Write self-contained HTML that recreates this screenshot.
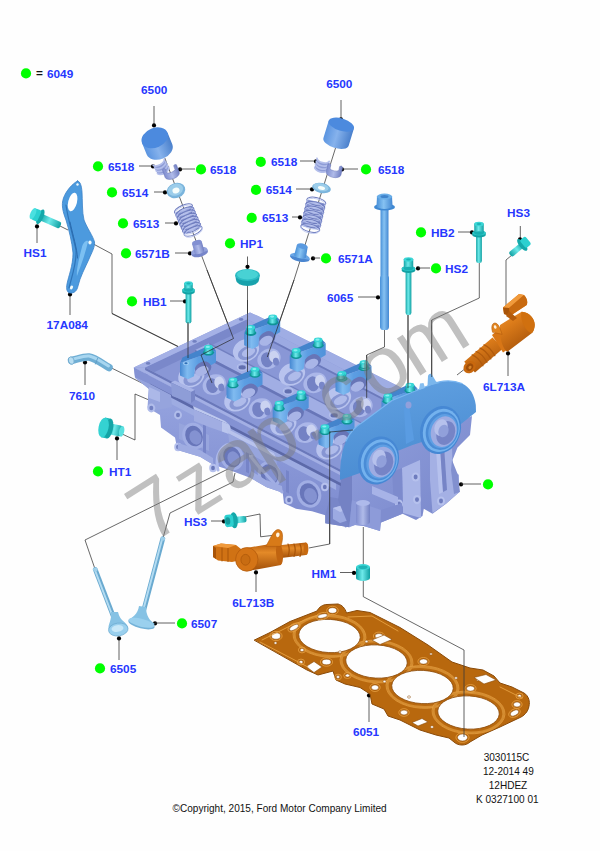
<!DOCTYPE html>
<html><head><meta charset="utf-8"><title>Cylinder head</title>
<style>
html,body{margin:0;padding:0;background:#fff;}
body{width:600px;height:851px;overflow:hidden;font-family:"Liberation Sans",sans-serif;}
svg{display:block;}
.lb{font-family:"Liberation Sans",sans-serif;font-weight:bold;font-size:11.8px;fill:#2637ff;}
.sm{font-family:"Liberation Sans",sans-serif;font-size:10.05px;fill:#111;}
.wm{font-family:"Liberation Sans",sans-serif;font-size:92px;fill:#8a8a8a;fill-opacity:0.55;}
</style></head><body>
<svg width="600" height="851" viewBox="0 0 600 851">
<rect width="600" height="851" fill="#fefefe"/>
<polyline points="164.8,158.0 207.0,270.0 233.5,338.5 201.0,355.0 212.0,383.0" fill="none" stroke="#262626" stroke-width="0.7"/>
<polyline points="336.0,146.5 294.0,280.0 267.3,357.0" fill="none" stroke="#262626" stroke-width="0.7"/>
<polyline points="247.5,284.0 247.5,372.0" fill="none" stroke="#262626" stroke-width="0.7"/>
<polyline points="188.0,322.0 188.0,358.0" fill="none" stroke="#262626" stroke-width="0.7"/>
<polyline points="91.5,243.0 112.0,254.0 112.0,313.5 178.0,346.5" fill="none" stroke="#262626" stroke-width="0.7"/>
<polyline points="60.0,226.0 68.0,230.0" fill="none" stroke="#262626" stroke-width="0.7"/>
<polyline points="109.5,367.0 150.0,387.0" fill="none" stroke="#262626" stroke-width="0.7"/>
<polyline points="120.0,433.0 135.0,440.0 135.0,394.0 149.0,400.0" fill="none" stroke="#262626" stroke-width="0.7"/>
<polyline points="95.0,569.0 85.0,540.0 230.0,468.0" fill="none" stroke="#262626" stroke-width="0.7"/>
<polyline points="163.0,538.0 170.0,513.0 233.0,482.0 235.0,473.0" fill="none" stroke="#262626" stroke-width="0.7"/>
<polyline points="245.0,517.0 260.0,514.0 260.6,536.8 276.0,535.0" fill="none" stroke="#262626" stroke-width="0.7"/>
<polyline points="308.8,548.0 329.7,544.0 329.7,432.0 353.0,430.0" fill="none" stroke="#262626" stroke-width="0.7"/>
<polyline points="363.3,527.0 363.3,566.0" fill="none" stroke="#262626" stroke-width="0.7"/>
<polyline points="363.3,580.0 363.3,596.7 464.0,650.0" fill="none" stroke="#262626" stroke-width="0.7"/>
<polyline points="384.5,330.0 384.5,347.0 366.7,355.0 366.7,398.0" fill="none" stroke="#262626" stroke-width="0.7"/>
<polyline points="408.0,315.0 408.0,388.0" fill="none" stroke="#262626" stroke-width="0.7"/>
<polyline points="479.3,263.0 479.3,298.0 431.7,320.0 431.7,377.0" fill="none" stroke="#262626" stroke-width="0.7"/>
<polyline points="512.0,255.0 506.0,260.0 506.0,310.0" fill="none" stroke="#262626" stroke-width="0.7"/>
<polyline points="466.0,368.0 457.0,375.0" fill="none" stroke="#262626" stroke-width="0.7"/>
<circle cx="26" cy="73.4" r="5.1" fill="#00ff00"/>
<text x="36" y="77.2" class="lb" style="fill:#111">=</text>
<text x="47" y="77.7" text-anchor="start" class="lb">6049</text>
<text x="154.2" y="94.0" text-anchor="middle" class="lb">6500</text>
<polyline points="154.0,106.0 154.0,125.0" fill="none" stroke="#3a3a3a" stroke-width="0.8"/>
<circle cx="154" cy="125.4" r="2.1" fill="#000"/>
<text x="339.3" y="88.0" text-anchor="middle" class="lb">6500</text>
<polyline points="341.0,100.0 341.0,119.0" fill="none" stroke="#3a3a3a" stroke-width="0.8"/>
<circle cx="341" cy="119.4" r="2.1" fill="#000"/>
<circle cx="98" cy="166.4" r="5.1" fill="#00ff00"/>
<text x="108" y="170.7" text-anchor="start" class="lb">6518</text>
<polyline points="139.0,166.0 153.0,166.0" fill="none" stroke="#3a3a3a" stroke-width="0.8"/>
<circle cx="153" cy="166.4" r="2.1" fill="#000"/>
<circle cx="180" cy="169.4" r="2.1" fill="#000"/>
<polyline points="180.0,169.0 195.0,169.0" fill="none" stroke="#3a3a3a" stroke-width="0.8"/>
<circle cx="201" cy="169.4" r="5.1" fill="#00ff00"/>
<text x="210" y="173.7" text-anchor="start" class="lb">6518</text>
<circle cx="112" cy="192.4" r="5.1" fill="#00ff00"/>
<text x="122" y="196.7" text-anchor="start" class="lb">6514</text>
<polyline points="154.0,192.0 165.0,192.0" fill="none" stroke="#3a3a3a" stroke-width="0.8"/>
<circle cx="165" cy="192.4" r="2.1" fill="#000"/>
<circle cx="123" cy="223.4" r="5.1" fill="#00ff00"/>
<text x="133" y="227.7" text-anchor="start" class="lb">6513</text>
<polyline points="165.0,223.0 176.0,223.0" fill="none" stroke="#3a3a3a" stroke-width="0.8"/>
<circle cx="176" cy="223.4" r="2.1" fill="#000"/>
<circle cx="126" cy="253.4" r="5.1" fill="#00ff00"/>
<text x="135" y="257.7" text-anchor="start" class="lb">6571B</text>
<polyline points="175.0,253.0 190.0,253.0" fill="none" stroke="#3a3a3a" stroke-width="0.8"/>
<circle cx="190" cy="253.4" r="2.1" fill="#000"/>
<circle cx="230" cy="243.4" r="5.1" fill="#00ff00"/>
<text x="240" y="247.7" text-anchor="start" class="lb">HP1</text>
<polyline points="247.5,256.5 247.5,266.5" fill="none" stroke="#3a3a3a" stroke-width="0.8"/>
<circle cx="247.5" cy="266.79999999999995" r="2.1" fill="#000"/>
<circle cx="132" cy="301.4" r="5.1" fill="#00ff00"/>
<text x="143" y="305.7" text-anchor="start" class="lb">HB1</text>
<polyline points="170.0,301.0 185.0,301.0" fill="none" stroke="#3a3a3a" stroke-width="0.8"/>
<circle cx="185" cy="301.4" r="2.1" fill="#000"/>
<text x="35" y="256.7" text-anchor="middle" class="lb">HS1</text>
<polyline points="37.0,226.0 37.0,243.0" fill="none" stroke="#3a3a3a" stroke-width="0.8"/>
<circle cx="37" cy="226.4" r="2.1" fill="#000"/>
<text x="67.2" y="329.1" text-anchor="middle" class="lb">17A084</text>
<polyline points="70.0,294.0 70.0,315.0" fill="none" stroke="#3a3a3a" stroke-width="0.8"/>
<circle cx="70" cy="294.4" r="2.1" fill="#000"/>
<text x="82" y="399.7" text-anchor="middle" class="lb">7610</text>
<polyline points="85.0,362.0 85.0,385.0" fill="none" stroke="#3a3a3a" stroke-width="0.8"/>
<circle cx="85" cy="362.4" r="2.1" fill="#000"/>
<circle cx="98" cy="471.4" r="5.1" fill="#00ff00"/>
<text x="109" y="475.7" text-anchor="start" class="lb">HT1</text>
<polyline points="117.0,438.0 117.0,460.0" fill="none" stroke="#3a3a3a" stroke-width="0.8"/>
<circle cx="117" cy="438.4" r="2.1" fill="#000"/>
<text x="184" y="525.7" text-anchor="start" class="lb">HS3</text>
<polyline points="211.0,521.0 224.0,521.0" fill="none" stroke="#3a3a3a" stroke-width="0.8"/>
<circle cx="224" cy="521.4" r="2.1" fill="#000"/>
<text x="253.3" y="606.9" text-anchor="middle" class="lb">6L713B</text>
<polyline points="256.0,572.0 256.0,592.0" fill="none" stroke="#3a3a3a" stroke-width="0.8"/>
<circle cx="256" cy="572.4" r="2.1" fill="#000"/>
<circle cx="155" cy="623.4" r="2.1" fill="#000"/>
<polyline points="155.0,623.0 175.0,623.0" fill="none" stroke="#3a3a3a" stroke-width="0.8"/>
<circle cx="182" cy="623.4" r="5.1" fill="#00ff00"/>
<text x="191" y="627.7" text-anchor="start" class="lb">6507</text>
<circle cx="100" cy="668.4" r="5.1" fill="#00ff00"/>
<text x="110" y="672.7" text-anchor="start" class="lb">6505</text>
<polyline points="119.0,638.0 119.0,660.0" fill="none" stroke="#3a3a3a" stroke-width="0.8"/>
<circle cx="119" cy="638.4" r="2.1" fill="#000"/>
<text x="311.5" y="577.7" text-anchor="start" class="lb">HM1</text>
<polyline points="340.0,572.5 354.0,572.5" fill="none" stroke="#3a3a3a" stroke-width="0.8"/>
<circle cx="354" cy="572.9" r="2.1" fill="#000"/>
<text x="366" y="735.7" text-anchor="middle" class="lb">6051</text>
<polyline points="369.0,695.0 369.0,722.0" fill="none" stroke="#3a3a3a" stroke-width="0.8"/>
<circle cx="369" cy="695.4" r="2.1" fill="#000"/>
<text x="504" y="390.7" text-anchor="middle" class="lb">6L713A</text>
<polyline points="508.0,353.0 508.0,376.0" fill="none" stroke="#3a3a3a" stroke-width="0.8"/>
<circle cx="508" cy="353.4" r="2.1" fill="#000"/>
<text x="518.5" y="216.7" text-anchor="middle" class="lb">HS3</text>
<polyline points="520.3,226.0 520.3,239.0" fill="none" stroke="#3a3a3a" stroke-width="0.8"/>
<circle cx="520" cy="239.4" r="2.1" fill="#000"/>
<circle cx="421" cy="232.4" r="5.1" fill="#00ff00"/>
<text x="431" y="236.7" text-anchor="start" class="lb">HB2</text>
<polyline points="458.0,232.0 472.0,232.0" fill="none" stroke="#3a3a3a" stroke-width="0.8"/>
<circle cx="472" cy="232.4" r="2.1" fill="#000"/>
<circle cx="418" cy="268.4" r="2.1" fill="#000"/>
<polyline points="418.0,268.0 430.0,268.0" fill="none" stroke="#3a3a3a" stroke-width="0.8"/>
<circle cx="436" cy="268.4" r="5.1" fill="#00ff00"/>
<text x="445" y="272.7" text-anchor="start" class="lb">HS2</text>
<text x="327" y="301.7" text-anchor="start" class="lb">6065</text>
<polyline points="358.0,297.0 378.0,297.0" fill="none" stroke="#3a3a3a" stroke-width="0.8"/>
<circle cx="378" cy="297.4" r="2.1" fill="#000"/>
<circle cx="313" cy="258.4" r="2.1" fill="#000"/>
<polyline points="313.0,258.0 320.0,258.0" fill="none" stroke="#3a3a3a" stroke-width="0.8"/>
<circle cx="326" cy="258.4" r="5.1" fill="#00ff00"/>
<text x="338" y="262.7" text-anchor="start" class="lb">6571A</text>
<circle cx="251.7" cy="217.9" r="5.1" fill="#00ff00"/>
<text x="262" y="221.7" text-anchor="start" class="lb">6513</text>
<polyline points="292.0,217.0 300.0,217.0" fill="none" stroke="#3a3a3a" stroke-width="0.8"/>
<circle cx="300" cy="217.4" r="2.1" fill="#000"/>
<circle cx="256" cy="189.9" r="5.1" fill="#00ff00"/>
<text x="265.7" y="193.7" text-anchor="start" class="lb">6514</text>
<polyline points="296.0,189.0 312.0,189.0" fill="none" stroke="#3a3a3a" stroke-width="0.8"/>
<circle cx="312" cy="189.4" r="2.1" fill="#000"/>
<circle cx="260.8" cy="161.9" r="5.1" fill="#00ff00"/>
<text x="271" y="165.7" text-anchor="start" class="lb">6518</text>
<polyline points="300.0,161.0 316.0,161.0" fill="none" stroke="#3a3a3a" stroke-width="0.8"/>
<circle cx="316" cy="161.4" r="2.1" fill="#000"/>
<circle cx="342" cy="169.4" r="2.1" fill="#000"/>
<polyline points="342.0,169.0 358.0,169.0" fill="none" stroke="#3a3a3a" stroke-width="0.8"/>
<circle cx="366" cy="169.4" r="5.1" fill="#00ff00"/>
<text x="378" y="173.7" text-anchor="start" class="lb">6518</text>
<circle cx="461" cy="484.4" r="2.1" fill="#000"/>
<polyline points="461.0,484.0 481.0,484.0" fill="none" stroke="#3a3a3a" stroke-width="0.8"/>
<circle cx="488" cy="484.4" r="5.1" fill="#00ff00"/>
<text x="506.5" y="760.6" text-anchor="middle" class="sm">3030115C</text>
<text x="508.3" y="774.6" text-anchor="middle" class="sm">12-2014 49</text>
<text x="508" y="788.6" text-anchor="middle" class="sm">12HDEZ</text>
<text x="507.3" y="802.6" text-anchor="middle" class="sm">K 0327100 01</text>
<text x="279.6" y="811.6" text-anchor="middle" class="sm" style="font-size:10.05px">©Copyright, 2015, Ford Motor Company Limited</text>
<defs><linearGradient id="gcyl" x1="0" y1="0" x2="1" y2="0"><stop offset="0" stop-color="#5a94e0"/><stop offset="0.45" stop-color="#86b2ec"/><stop offset="1" stop-color="#4a80cc"/></linearGradient></defs>
<defs><linearGradient id="gper" x1="0" y1="0" x2="1" y2="0"><stop offset="0" stop-color="#7e8cce"/><stop offset="0.5" stop-color="#b0bbe9"/><stop offset="1" stop-color="#7280c2"/></linearGradient></defs>
<defs><linearGradient id="gbolt" x1="0" y1="0" x2="1" y2="0"><stop offset="0" stop-color="#12a4a6"/><stop offset="0.45" stop-color="#6eeaea"/><stop offset="1" stop-color="#10a0a2"/></linearGradient></defs>
<defs><linearGradient id="gblue" x1="0" y1="0" x2="1" y2="0"><stop offset="0" stop-color="#4890d8"/><stop offset="0.45" stop-color="#86c2f2"/><stop offset="1" stop-color="#4488d2"/></linearGradient></defs>
<defs><linearGradient id="gval" x1="0" y1="0" x2="1" y2="0"><stop offset="0" stop-color="#5f9fc6"/><stop offset="0.5" stop-color="#c0e4f6"/><stop offset="1" stop-color="#6aaad0"/></linearGradient></defs>
<defs><linearGradient id="gor" x1="0" y1="0" x2="0" y2="1"><stop offset="0" stop-color="#b45a0c"/><stop offset="0.35" stop-color="#e48a28"/><stop offset="1" stop-color="#a04e08"/></linearGradient></defs>
<g transform="translate(154.8,137.8) rotate(-22)">
<path d="M-13.8,0 L-13.8,12.5 A13.8,9.8 0 0 0 13.8,12.5 L13.8,0 Z" fill="url(#gcyl)"/>
<ellipse cx="0" cy="0" rx="13.8" ry="9.8" fill="#4c8ade"/>
</g>
<g transform="translate(341.3,124.6) rotate(17)">
<path d="M-13.2,0 L-13.2,18 A13.2,6.2 0 0 0 13.2,18 L13.2,0 Z" fill="url(#gcyl)"/>
<ellipse cx="0" cy="0" rx="13.2" ry="6.2" fill="#4c8ade"/>
</g>
<g transform="translate(161,166.5) rotate(-28)">
<path d="M-6.5,-5.5 L-6.5,4 A6.5,3.6 0 0 0 6.5,4 L6.5,-5.5 A6.5,3.6 0 0 1 -6.5,-5.5 Z" fill="#8e9cd6"/>
<path d="M-6.5,-5.5 A6.5,3.6 0 0 0 6.5,-5.5" fill="none" stroke="#b4bfeb" stroke-width="1.7"/>
<path d="M-6.5,-2.3 A6.5,3.6 0 0 0 6.5,-2.3" fill="none" stroke="#b4bfeb" stroke-width="1.7"/>
<path d="M-6.5,0.9 A6.5,3.6 0 0 0 6.5,0.9" fill="none" stroke="#b4bfeb" stroke-width="1.7"/>
<path d="M-6.5,4.0 A6.5,3.6 0 0 0 6.5,4.0" fill="none" stroke="#b4bfeb" stroke-width="1.7"/>
</g>
<g transform="translate(171.5,173) rotate(-20)">
<path d="M-7.5,-6 L-7.5,2 A7.5,4 0 0 0 7.5,2 L7.5,-6 A2,2 0 0 0 4.5,-6 L4.5,-2 A5,2.5 0 0 1 -4.5,-2 L-4.5,-6 A2,2 0 0 0 -7.5,-6 Z" fill="url(#gper)" stroke="#6a78ba" stroke-width="0.5"/>
</g>
<g transform="translate(322,164.5) rotate(14)">
<path d="M-6.5,-5.5 L-6.5,4 A6.5,3.6 0 0 0 6.5,4 L6.5,-5.5 A6.5,3.6 0 0 1 -6.5,-5.5 Z" fill="#8e9cd6"/>
<path d="M-6.5,-5.5 A6.5,3.6 0 0 0 6.5,-5.5" fill="none" stroke="#b4bfeb" stroke-width="1.7"/>
<path d="M-6.5,-2.3 A6.5,3.6 0 0 0 6.5,-2.3" fill="none" stroke="#b4bfeb" stroke-width="1.7"/>
<path d="M-6.5,0.9 A6.5,3.6 0 0 0 6.5,0.9" fill="none" stroke="#b4bfeb" stroke-width="1.7"/>
<path d="M-6.5,4.0 A6.5,3.6 0 0 0 6.5,4.0" fill="none" stroke="#b4bfeb" stroke-width="1.7"/>
</g>
<g transform="translate(334,171.5) rotate(12)">
<path d="M-7.5,-6 L-7.5,2 A7.5,4 0 0 0 7.5,2 L7.5,-6 A2,2 0 0 0 4.5,-6 L4.5,-2 A5,2.5 0 0 1 -4.5,-2 L-4.5,-6 A2,2 0 0 0 -7.5,-6 Z" fill="url(#gper)" stroke="#6a78ba" stroke-width="0.5"/>
</g>
<ellipse cx="176.0" cy="190.5" rx="9.5" ry="7.5" fill="#7ab4dc" transform="rotate(-20 176.0 190.5)"/>
<ellipse cx="175.5" cy="189.7" rx="7.8" ry="5.9" fill="#9ccdea" transform="rotate(-20 175.5 189.7)"/>
<ellipse cx="176.0" cy="190.5" rx="3.6" ry="2.9" fill="#f6fdfb" transform="rotate(-20 176.0 190.5)"/>
<ellipse cx="321.5" cy="188.0" rx="9.5" ry="5.0" fill="#7ab4dc" transform="rotate(12 321.5 188.0)"/>
<ellipse cx="321.0" cy="187.2" rx="7.8" ry="3.9" fill="#9ccdea" transform="rotate(12 321.0 187.2)"/>
<ellipse cx="321.5" cy="188.0" rx="3.6" ry="1.9" fill="#f6fdfb" transform="rotate(12 321.5 188.0)"/>
<g transform="translate(183.5,209) rotate(-23.4)">
<rect x="-9.75" y="0" width="19.5" height="24.0" rx="3" fill="url(#gper)"/>
<ellipse cx="0" cy="0.0" rx="9.75" ry="3.9" fill="none" stroke="#6e7cbe" stroke-width="1"/>
<ellipse cx="0" cy="1.2" rx="9.25" ry="3.9" fill="none" stroke="#bac5ee" stroke-width="0.8"/>
<ellipse cx="0" cy="3.4" rx="9.75" ry="3.9" fill="none" stroke="#6e7cbe" stroke-width="1"/>
<ellipse cx="0" cy="4.6" rx="9.25" ry="3.9" fill="none" stroke="#bac5ee" stroke-width="0.8"/>
<ellipse cx="0" cy="6.8" rx="9.75" ry="3.9" fill="none" stroke="#6e7cbe" stroke-width="1"/>
<ellipse cx="0" cy="8.0" rx="9.25" ry="3.9" fill="none" stroke="#bac5ee" stroke-width="0.8"/>
<ellipse cx="0" cy="10.3" rx="9.75" ry="3.9" fill="none" stroke="#6e7cbe" stroke-width="1"/>
<ellipse cx="0" cy="11.5" rx="9.25" ry="3.9" fill="none" stroke="#bac5ee" stroke-width="0.8"/>
<ellipse cx="0" cy="13.7" rx="9.75" ry="3.9" fill="none" stroke="#6e7cbe" stroke-width="1"/>
<ellipse cx="0" cy="14.9" rx="9.25" ry="3.9" fill="none" stroke="#bac5ee" stroke-width="0.8"/>
<ellipse cx="0" cy="17.1" rx="9.75" ry="3.9" fill="none" stroke="#6e7cbe" stroke-width="1"/>
<ellipse cx="0" cy="18.3" rx="9.25" ry="3.9" fill="none" stroke="#bac5ee" stroke-width="0.8"/>
<ellipse cx="0" cy="20.5" rx="9.75" ry="3.9" fill="none" stroke="#6e7cbe" stroke-width="1"/>
<ellipse cx="0" cy="21.7" rx="9.25" ry="3.9" fill="none" stroke="#bac5ee" stroke-width="0.8"/>
<ellipse cx="0" cy="24.0" rx="9.75" ry="3.9" fill="none" stroke="#6e7cbe" stroke-width="1"/>
<ellipse cx="0" cy="25.2" rx="9.25" ry="3.9" fill="none" stroke="#bac5ee" stroke-width="0.8"/>
</g>
<g transform="translate(316.3,201.5) rotate(12.8)">
<rect x="-9.75" y="0" width="19.5" height="27.2" rx="3" fill="url(#gper)"/>
<ellipse cx="0" cy="0.0" rx="9.75" ry="3.9" fill="none" stroke="#6e7cbe" stroke-width="1"/>
<ellipse cx="0" cy="1.2" rx="9.25" ry="3.9" fill="none" stroke="#bac5ee" stroke-width="0.8"/>
<ellipse cx="0" cy="4.5" rx="9.75" ry="3.9" fill="none" stroke="#6e7cbe" stroke-width="1"/>
<ellipse cx="0" cy="5.7" rx="9.25" ry="3.9" fill="none" stroke="#bac5ee" stroke-width="0.8"/>
<ellipse cx="0" cy="9.1" rx="9.75" ry="3.9" fill="none" stroke="#6e7cbe" stroke-width="1"/>
<ellipse cx="0" cy="10.3" rx="9.25" ry="3.9" fill="none" stroke="#bac5ee" stroke-width="0.8"/>
<ellipse cx="0" cy="13.6" rx="9.75" ry="3.9" fill="none" stroke="#6e7cbe" stroke-width="1"/>
<ellipse cx="0" cy="14.8" rx="9.25" ry="3.9" fill="none" stroke="#bac5ee" stroke-width="0.8"/>
<ellipse cx="0" cy="18.1" rx="9.75" ry="3.9" fill="none" stroke="#6e7cbe" stroke-width="1"/>
<ellipse cx="0" cy="19.3" rx="9.25" ry="3.9" fill="none" stroke="#bac5ee" stroke-width="0.8"/>
<ellipse cx="0" cy="22.6" rx="9.75" ry="3.9" fill="none" stroke="#6e7cbe" stroke-width="1"/>
<ellipse cx="0" cy="23.8" rx="9.25" ry="3.9" fill="none" stroke="#bac5ee" stroke-width="0.8"/>
<ellipse cx="0" cy="27.2" rx="9.75" ry="3.9" fill="none" stroke="#6e7cbe" stroke-width="1"/>
<ellipse cx="0" cy="28.4" rx="9.25" ry="3.9" fill="none" stroke="#bac5ee" stroke-width="0.8"/>
</g>
<g transform="translate(198.5,248.5) rotate(-15) scale(1)">
<ellipse cx="0" cy="4.5" rx="8.5" ry="4" fill="#7786ca"/>
<path d="M-8.5,3 A8.5,4 0 0 1 8.5,3 L8.5,4.5 L-8.5,4.5 Z" fill="#93a2dc"/>
<path d="M-5,-6 L-5,3 A5,2.5 0 0 0 5,3 L5,-6 Z" fill="url(#gper)"/>
<ellipse cx="0" cy="-6" rx="5" ry="2.5" fill="#8290d2"/>
</g>
<g transform="translate(301,252) rotate(12)">
<ellipse cx="0" cy="6" rx="10" ry="3.6" fill="#4a86d0"/>
<path d="M-10,5 A10,3.6 0 0 1 10,5 L10,6 L-10,6 Z" fill="#6aa6e6"/>
<path d="M-5.5,-6 L-6,4 A6,2.5 0 0 0 6,4 L5.5,-6 Z" fill="url(#gblue)"/>
<ellipse cx="0" cy="-6" rx="5.5" ry="2.6" fill="#5a9ae0"/>
</g>
<path d="M235.2,275 L236,280 A11.5,6 0 0 0 259,280 L259.8,275 Z" fill="#18a2ac"/>
<ellipse cx="247.5" cy="275.0" rx="12.3" ry="6.0" fill="#2cbcc4"/>
<ellipse cx="247.5" cy="274.6" rx="10.6" ry="4.8" fill="#48d2d4"/>
<rect x="185.6" y="292.0" width="5.8" height="31.5" rx="2.3" fill="url(#gbolt)"/>
<path d="M182.25,290.0 L182.25,292.0 A6.25,2.4 0 0 0 194.75,292.0 L194.75,290.0 A6.25,2.4 0 0 0 182.25,290.0 Z" fill="#12a2a4"/>
<ellipse cx="188.5" cy="290.0" rx="6.25" ry="2.4" fill="#2cc8c8"/>
<rect x="184.25" y="283.0" width="8.5" height="7.0" fill="url(#gbolt)"/>
<ellipse cx="188.5" cy="290.0" rx="4.25" ry="1.8" fill="#18aeb0"/>
<ellipse cx="188.5" cy="283.5" rx="4.25" ry="2.2" fill="#3ad6d6"/>
<ellipse cx="188.5" cy="283.5" rx="2.125" ry="1" fill="#1cb4b6"/>
<rect x="405.6" y="270.5" width="5.8" height="44.5" rx="2.3" fill="url(#gbolt)"/>
<path d="M401.75,268.5 L401.75,270.5 A6.75,2.4 0 0 0 415.25,270.5 L415.25,268.5 A6.75,2.4 0 0 0 401.75,268.5 Z" fill="#12a2a4"/>
<ellipse cx="408.5" cy="268.5" rx="6.75" ry="2.4" fill="#2cc8c8"/>
<rect x="403.75" y="259.0" width="9.5" height="9.5" fill="url(#gbolt)"/>
<ellipse cx="408.5" cy="268.5" rx="4.75" ry="1.8" fill="#18aeb0"/>
<ellipse cx="408.5" cy="259.5" rx="4.75" ry="2.2" fill="#3ad6d6"/>
<ellipse cx="408.5" cy="259.5" rx="2.375" ry="1" fill="#1cb4b6"/>
<rect x="476.1" y="235" width="5.8" height="28" rx="2.3" fill="url(#gbolt)"/>
<path d="M472.25,233 L472.25,235 A6.75,2.4 0 0 0 485.75,235 L485.75,233 A6.75,2.4 0 0 0 472.25,233 Z" fill="#12a2a4"/>
<ellipse cx="479" cy="233" rx="6.75" ry="2.4" fill="#2cc8c8"/>
<rect x="474.25" y="223.5" width="9.5" height="9.5" fill="url(#gbolt)"/>
<ellipse cx="479" cy="233" rx="4.75" ry="1.8" fill="#18aeb0"/>
<ellipse cx="479" cy="224" rx="4.75" ry="2.2" fill="#3ad6d6"/>
<ellipse cx="479" cy="224" rx="2.375" ry="1" fill="#1cb4b6"/>
<rect x="380.5" y="207" width="8" height="123" rx="3.5" fill="url(#gblue)"/>
<rect x="380" y="275" width="9" height="55" rx="3.5" fill="url(#gblue)"/>
<ellipse cx="384.5" cy="207.0" rx="10.5" ry="3.6" fill="#3f88d2"/>
<path d="M377,196 L376.5,206 A8,3 0 0 0 392.5,206 L392,196 Z" fill="url(#gblue)"/>
<ellipse cx="384.5" cy="196.5" rx="7.6" ry="3.0" fill="#6aaee8"/>
<ellipse cx="384.5" cy="196.5" rx="4.0" ry="1.5" fill="#3f84cc"/>
<g transform="translate(38.5,216) rotate(24) scale(1.0)">
<rect x="2" y="-3.4" width="22" height="6.8" rx="2" fill="url(#gbolt)" transform="rotate(0)"/>
<ellipse cx="2" cy="0" rx="3" ry="8" fill="#14a8aa"/>
<rect x="-6" y="-6" width="7" height="12" rx="2" fill="#2cd0d0"/>
<ellipse cx="-6" cy="0" rx="2.6" ry="6" fill="#4ae0e0"/>
</g>
<g transform="translate(524,243.5) rotate(140) scale(1.12)">
<rect x="2" y="-2.6" width="14" height="5.2" rx="2" fill="url(#gbolt)"/>
<ellipse cx="2" cy="0" rx="2.6" ry="6.5" fill="#14a8aa"/>
<rect x="-5" y="-4.6" width="6.5" height="9.2" rx="2" fill="#2cd0d0"/>
</g>
<g transform="translate(231.5,520.5) rotate(-6) scale(1.25)">
<rect x="2" y="-2.6" width="10" height="5.2" rx="2" fill="url(#gbolt)"/>
<ellipse cx="2" cy="0" rx="3" ry="6.5" fill="#14a8aa"/>
<rect x="-5.5" y="-5" width="7" height="10" rx="2.5" fill="#2cd0d0"/>
<ellipse cx="-3" cy="0" rx="2" ry="3" fill="#129a9c"/>
</g>
<path d="M77.5,181 C72,184 66,191 63.5,198 C61,205 63,212 66,220 C69,230 72,242 73,253 C73,266 68.500,276 67,284 C66,289 67,292.500 70,293 C74,293.500 77,291 78,286 C80,277 85,268 89,259 C92,252 95,247 94.500,242 C93,236 87,228 84,220 C82,212 82.500,200 82,192 C81.500,186 80.500,181.500 77.500,181 Z" fill="#4c9ade" stroke="#3a82c8" stroke-width="0.8" stroke-linejoin="round" stroke-linecap="round" />
<path d="M66,205 C68,220 73,235 76,250 C77,262 72,276 69,288" fill="none" stroke="#2f74b8" stroke-width="1.2" stroke-linejoin="round" stroke-linecap="round" />
<path d="M70,222 C73,236 77,248 77.5,258" fill="none" stroke="#2a6cb0" stroke-width="1" stroke-linejoin="round" stroke-linecap="round" />
<path d="M82,247 C83,243 86,240 88,241 C86,252 80,268 77,276 C76,272 79,258 82,247 Z" fill="#7cc0f2" />
<ellipse cx="72.6" cy="202.0" rx="4.4" ry="9.5" fill="#fefefe" transform="rotate(14 72.6 202.0)"/>
<ellipse cx="90.0" cy="242.5" rx="1.6" ry="2.0" fill="#f1f9fa"/>
<ellipse cx="71.5" cy="287.5" rx="1.4" ry="2.0" fill="#f1f9fa" transform="rotate(30 71.5 287.5)"/>
<ellipse cx="77.5" cy="184.5" rx="1.2" ry="1.2" fill="#f1f9fa"/>
<path d="M71.5,360.5 C78,359 84,356.500 89,357 C95,358 100,362 109,367.500" fill="none" stroke="#6faed4" stroke-width="7.5" stroke-linejoin="round" stroke-linecap="round" />
<path d="M72,359.500 C78,358 84,355.500 89,356 C95,357 100,361 108.500,366" fill="none" stroke="#a8d6f0" stroke-width="3" stroke-linejoin="round" stroke-linecap="round" />
<ellipse cx="71.3" cy="360.6" rx="2.8" ry="3.8" fill="#b8def2" stroke="#6aa6cc" stroke-width="0.8" transform="rotate(-15 71.3 360.6)"/>
<path d="M97.500,358.500 L95.500,364" fill="none" stroke="#5c9cc4" stroke-width="0.9" stroke-linejoin="round" stroke-linecap="round" />
<g transform="translate(106,428) rotate(12)">
<rect x="2" y="-5.5" width="14" height="11" rx="2" fill="url(#gbolt)" />
<ellipse cx="16" cy="0" rx="2.6" ry="5.4" fill="#5ae0e0"/>
<path d="M-3,-10 L3,-10 L3,10 L-3,10 Z" fill="#1fbcbc"/>
<ellipse cx="3" cy="0" rx="4" ry="10" fill="#14a4a6"/>
<ellipse cx="-2.5" cy="0" rx="5" ry="10" fill="#34d2d2"/>
</g>
<path d="M356,567 L356,578 A7,3 0 0 0 370,578 L370,567 Z" fill="url(#gbolt)"/>
<ellipse cx="363.0" cy="567.0" rx="7.0" ry="3.0" fill="#3cd6d6"/>
<ellipse cx="363.0" cy="567.3" rx="4.6" ry="1.8" fill="#1fb4b6"/>
<path d="M95.3,569.5 L115.5,622" fill="none" stroke="#6aaad0" stroke-width="4.8" stroke-linejoin="round" stroke-linecap="round" />
<path d="M94.7,569.5 L114.9,622" fill="none" stroke="#b4dcf2" stroke-width="1.92" stroke-linejoin="round" stroke-linecap="round" />
<ellipse cx="95.3" cy="569.5" rx="2.4" ry="2.0" fill="#a0d0ea"/>
<path d="M111,612 C112,620 108,624 108.500,629 C110,636 126,636 128,628 C128,622 120,622 118,612 Z" fill="#86c2e4" />
<ellipse cx="118.3" cy="629.5" rx="9.8" ry="6.4" fill="#9ad0ee" stroke="#6aaad0" stroke-width="0.7" transform="rotate(-8 118.3 629.5)"/>
<ellipse cx="117.5" cy="628.5" rx="6.0" ry="3.4" fill="#c8e8f8" transform="rotate(-8 117.5 628.5)"/>
<path d="M162.8,538.7 L142.5,615" fill="none" stroke="#6aaad0" stroke-width="4.8" stroke-linejoin="round" stroke-linecap="round" />
<path d="M162.20000000000002,538.7 L141.9,615" fill="none" stroke="#b4dcf2" stroke-width="1.92" stroke-linejoin="round" stroke-linecap="round" />
<ellipse cx="162.8" cy="538.7" rx="2.4" ry="2.0" fill="#a0d0ea"/>
<path d="M139,606 C138,614 132,618 128,620 C136,626 150,628 155,624 C150,621 146,616 146,607 Z" fill="#86c2e4" />
<ellipse cx="141.5" cy="624.0" rx="13.5" ry="4.4" fill="#74b2d8" transform="rotate(14 141.5 624.0)"/>
<ellipse cx="141.5" cy="622.8" rx="13.0" ry="4.0" fill="#9ad0ee" transform="rotate(14 141.5 622.8)"/>
<defs><linearGradient id="gorA" x1="0" y1="0" x2="0.6" y2="1"><stop offset="0" stop-color="#ec9434"/><stop offset="0.35" stop-color="#dc7c1a"/><stop offset="1" stop-color="#a8540a"/></linearGradient></defs>
<path d="M464.2,361.7 L492.5,337.5 L503.3,348.3 L475,372.5 Z" fill="url(#gorA)" />
<ellipse cx="469.6" cy="367.1" rx="5.6" ry="6.6" fill="#c8680e" transform="rotate(40 469.6 367.1)"/>
<ellipse cx="469.6" cy="367.1" rx="3.2" ry="4.0" fill="#a04e08" transform="rotate(40 469.6 367.1)"/>
<ellipse cx="470.0" cy="367.4" rx="1.4" ry="1.8" fill="#d8852a" transform="rotate(40 470.0 367.4)"/>
<path d="M472.1,354.9 q6,2 10.8,10.8" fill="none" stroke="#b05a0c" stroke-width="1.3" stroke-linejoin="round" stroke-linecap="round" />
<path d="M476.1,351.5 q6,2 10.8,10.8" fill="none" stroke="#b05a0c" stroke-width="1.3" stroke-linejoin="round" stroke-linecap="round" />
<path d="M480.0,348.1 q6,2 10.8,10.8" fill="none" stroke="#b05a0c" stroke-width="1.3" stroke-linejoin="round" stroke-linecap="round" />
<path d="M484.0,344.8 q6,2 10.8,10.8" fill="none" stroke="#b05a0c" stroke-width="1.3" stroke-linejoin="round" stroke-linecap="round" />
<path d="M492,335 L499,329 L511,347 L503,352.5 Z" fill="#d87616" />
<path d="M500,325 L521.7,311.7 C530,312 536,320 534.5,327 C534,330 533,332 532,333 L507.5,351.7 C503,350 499,338 500,325 Z" fill="url(#gorA)" />
<path d="M521.7,311.7 C530,312 536,320 534.5,327 C534,330 533,332 532,333 C527,333 519,320 521.7,311.7 Z" fill="#d0700f" />
<path d="M492.500,332 C491,327 492,323 495,323 C498.500,323.500 500,328 502,334 Z" fill="#e08420" stroke="#b45c0c" stroke-width="0.6" stroke-linejoin="round" stroke-linecap="round" />
<ellipse cx="495.2" cy="327.0" rx="1.3" ry="1.9" fill="#fff3e0" transform="rotate(-20 495.2 327.0)"/>
<path d="M503,307.500 L519,294 L524,295 C527,298 528,302 526.700,305 L510,316 L504,314 Z" fill="#e07c1a" />
<path d="M503,307.500 L519,294 L524,295 L509,308 Z" fill="#f09a3c" />
<path d="M509,308 L524,295 C527,298 528,302 526.700,305 L510,316 Z" fill="#c86a10" />
<path d="M503,307.500 L509,308 L510,316 L504,314 Z" fill="#a85408" />
<path d="M509,311 L517,318 L513,321 L506,316 Z" fill="#b45c0c" />
<path d="M213,546 L221,543.500 L236,545 L241,549 L241,560 L232,562 L218,560.500 L213,557 Z" fill="#d07214" />
<path d="M213,546 L221,543.500 L236,545 L228,548 Z" fill="#f09a3c" />
<path d="M213,546 L216,548 L216,559 L213,557 Z" fill="#a85408" />
<path d="M222,548 L222,561 M228,548.500 L228,561.500" fill="none" stroke="#a85408" stroke-width="1" stroke-linejoin="round" stroke-linecap="round" />
<path d="M277,545.5 L306,542.5 L306,555 L277,558.5 Z" fill="url(#gor)" />
<ellipse cx="306.0" cy="548.8" rx="2.4" ry="6.3" fill="#c86a10"/>
<path d="M288,544 q2.500,6 0,12.500" fill="none" stroke="#a85408" stroke-width="1.2" stroke-linejoin="round" stroke-linecap="round" />
<path d="M294,544 q2.500,6 0,12.500" fill="none" stroke="#a85408" stroke-width="1.2" stroke-linejoin="round" stroke-linecap="round" />
<path d="M300,544 q2.500,6 0,12.500" fill="none" stroke="#a85408" stroke-width="1.2" stroke-linejoin="round" stroke-linecap="round" />
<path d="M246,548 L279,542.5 L281,565 L248,571 Z" fill="url(#gor)" />
<ellipse cx="279.5" cy="553.8" rx="3.4" ry="11.3" fill="#c06410" transform="rotate(-5 279.5 553.8)"/>
<ellipse cx="246.8" cy="559.4" rx="11.2" ry="11.8" fill="#d47416"/>
<ellipse cx="246.8" cy="559.4" rx="11.2" ry="11.8" fill="none" stroke="#b45c0c" stroke-width="0.8"/>
<ellipse cx="245.5" cy="559.8" rx="4.6" ry="5.4" fill="#c86c12"/>
<ellipse cx="245.5" cy="559.8" rx="4.6" ry="5.4" fill="none" stroke="#a85408" stroke-width="0.7"/>
<path d="M266,546 C270,540 273,530 278,529.5 C283.5,529.5 283.5,538 281,546 Z" fill="#d87a18" stroke="#b45c0c" stroke-width="0.6" stroke-linejoin="round" stroke-linecap="round" />
<ellipse cx="277.8" cy="534.8" rx="1.8" ry="2.4" fill="#fff3e0" transform="rotate(10 277.8 534.8)"/>
<path d="M254.5,640 L270,632.5 L290,621.5 L317,611 C319,607 323,604.500 327,604.500 L338,604 C342,605 345,608 346.500,613 L357,610.500 L370,612.500 L400,627.500 L428,645 L452,662 L470,668 L483,670 L494,676 L500,683 L512,687 L524,693 C529,696 530,702 529,706 C528,712 524,716 519,718 L500,727 L482,735 L470,742 C466,746 458,746 454,742 L449,738 L436,735 L420,730 L400,720 L388,716 L384,709 L372,704 L370,694 L360,687.500 L345,684 L336,680 L333,671 L318,675 L307,670 Z" fill="#b8680e" stroke="#8a4a08" stroke-width="1" stroke-linejoin="round" stroke-linecap="round" />
<ellipse cx="329.5" cy="636.0" rx="35.0" ry="20.0" fill="none" stroke="#d48c30" stroke-width="2.2" transform="rotate(3 329.5 636.0)"/>
<ellipse cx="329.5" cy="636.0" rx="36.5" ry="21.3" fill="none" stroke="#e6a042" stroke-width="0.7" transform="rotate(3 329.5 636.0)"/>
<ellipse cx="376.5" cy="661.5" rx="35.0" ry="20.0" fill="none" stroke="#d48c30" stroke-width="2.2" transform="rotate(3 376.5 661.5)"/>
<ellipse cx="376.5" cy="661.5" rx="36.5" ry="21.3" fill="none" stroke="#e6a042" stroke-width="0.7" transform="rotate(3 376.5 661.5)"/>
<ellipse cx="422.5" cy="687.0" rx="35.0" ry="20.0" fill="none" stroke="#d48c30" stroke-width="2.2" transform="rotate(3 422.5 687.0)"/>
<ellipse cx="422.5" cy="687.0" rx="36.5" ry="21.3" fill="none" stroke="#e6a042" stroke-width="0.7" transform="rotate(3 422.5 687.0)"/>
<ellipse cx="468.5" cy="712.5" rx="35.0" ry="20.0" fill="none" stroke="#d48c30" stroke-width="2.2" transform="rotate(3 468.5 712.5)"/>
<ellipse cx="468.5" cy="712.5" rx="36.5" ry="21.3" fill="none" stroke="#e6a042" stroke-width="0.7" transform="rotate(3 468.5 712.5)"/>
<ellipse cx="329.5" cy="636.0" rx="30.8" ry="16.6" fill="#fefefe" stroke="#8a4a08" stroke-width="0.8" transform="rotate(3 329.5 636.0)"/>
<ellipse cx="376.5" cy="661.5" rx="30.8" ry="16.6" fill="#fefefe" stroke="#8a4a08" stroke-width="0.8" transform="rotate(3 376.5 661.5)"/>
<ellipse cx="422.5" cy="687.0" rx="30.8" ry="16.6" fill="#fefefe" stroke="#8a4a08" stroke-width="0.8" transform="rotate(3 422.5 687.0)"/>
<ellipse cx="468.5" cy="712.5" rx="30.8" ry="16.6" fill="#fefefe" stroke="#8a4a08" stroke-width="0.8" transform="rotate(3 468.5 712.5)"/>
<ellipse cx="276.0" cy="636.0" rx="6.1" ry="4.6" fill="none" stroke="#e6a042" stroke-width="0.8"/>
<ellipse cx="276.0" cy="636.0" rx="4.5" ry="3.2" fill="#fefefe" stroke="#8a4a08" stroke-width="0.5"/>
<ellipse cx="275.5" cy="643.0" rx="1.5" ry="1.2" fill="#fefefe" stroke="#8a4a08" stroke-width="0.5"/>
<ellipse cx="294.0" cy="627.5" rx="6.6" ry="3.6" fill="none" stroke="#e6a042" stroke-width="0.8" transform="rotate(-28 294.0 627.5)"/>
<ellipse cx="294.0" cy="627.5" rx="5.0" ry="2.2" fill="#fefefe" stroke="#8a4a08" stroke-width="0.5" transform="rotate(-28 294.0 627.5)"/>
<ellipse cx="322.5" cy="616.0" rx="6.6" ry="3.4" fill="none" stroke="#e6a042" stroke-width="0.8" transform="rotate(-12 322.5 616.0)"/>
<ellipse cx="322.5" cy="616.0" rx="5.0" ry="2.0" fill="#fefefe" stroke="#8a4a08" stroke-width="0.5" transform="rotate(-12 322.5 616.0)"/>
<ellipse cx="332.5" cy="610.5" rx="5.8" ry="4.2" fill="none" stroke="#e6a042" stroke-width="0.8"/>
<ellipse cx="332.5" cy="610.5" rx="4.2" ry="2.8" fill="#fefefe" stroke="#8a4a08" stroke-width="0.5"/>
<ellipse cx="302.0" cy="650.0" rx="3.6" ry="2.9" fill="none" stroke="#e6a042" stroke-width="0.8"/>
<ellipse cx="302.0" cy="650.0" rx="2.0" ry="1.5" fill="#fefefe" stroke="#8a4a08" stroke-width="0.5"/>
<ellipse cx="301.0" cy="662.0" rx="3.6" ry="2.9" fill="none" stroke="#e6a042" stroke-width="0.8"/>
<ellipse cx="301.0" cy="662.0" rx="2.0" ry="1.5" fill="#fefefe" stroke="#8a4a08" stroke-width="0.5"/>
<ellipse cx="326.5" cy="662.0" rx="6.1" ry="4.2" fill="none" stroke="#e6a042" stroke-width="0.8"/>
<ellipse cx="326.5" cy="662.0" rx="4.5" ry="2.8" fill="#fefefe" stroke="#8a4a08" stroke-width="0.5"/>
<ellipse cx="338.0" cy="677.0" rx="3.4" ry="2.8" fill="none" stroke="#e6a042" stroke-width="0.8"/>
<ellipse cx="338.0" cy="677.0" rx="1.8" ry="1.4" fill="#fefefe" stroke="#8a4a08" stroke-width="0.5"/>
<ellipse cx="347.5" cy="675.5" rx="3.8" ry="3.0" fill="none" stroke="#e6a042" stroke-width="0.8"/>
<ellipse cx="347.5" cy="675.5" rx="2.2" ry="1.6" fill="#fefefe" stroke="#8a4a08" stroke-width="0.5"/>
<ellipse cx="375.0" cy="687.5" rx="5.2" ry="4.0" fill="none" stroke="#e6a042" stroke-width="0.8"/>
<ellipse cx="375.0" cy="687.5" rx="3.6" ry="2.6" fill="#fefefe" stroke="#8a4a08" stroke-width="0.5"/>
<ellipse cx="379.0" cy="636.0" rx="5.6" ry="3.9" fill="none" stroke="#e6a042" stroke-width="0.8"/>
<ellipse cx="379.0" cy="636.0" rx="4.0" ry="2.5" fill="#fefefe" stroke="#8a4a08" stroke-width="0.5"/>
<ellipse cx="366.5" cy="641.5" rx="1.5" ry="1.2" fill="#fefefe" stroke="#8a4a08" stroke-width="0.5"/>
<ellipse cx="384.5" cy="681.5" rx="1.5" ry="1.2" fill="#fefefe" stroke="#8a4a08" stroke-width="0.5"/>
<ellipse cx="423.5" cy="661.5" rx="5.6" ry="4.0" fill="none" stroke="#e6a042" stroke-width="0.8"/>
<ellipse cx="423.5" cy="661.5" rx="4.0" ry="2.6" fill="#fefefe" stroke="#8a4a08" stroke-width="0.5"/>
<ellipse cx="470.5" cy="688.5" rx="5.6" ry="4.0" fill="none" stroke="#e6a042" stroke-width="0.8"/>
<ellipse cx="470.5" cy="688.5" rx="4.0" ry="2.6" fill="#fefefe" stroke="#8a4a08" stroke-width="0.5"/>
<ellipse cx="404.0" cy="712.5" rx="5.2" ry="3.8" fill="none" stroke="#e6a042" stroke-width="0.8"/>
<ellipse cx="404.0" cy="712.5" rx="3.6" ry="2.4" fill="#fefefe" stroke="#8a4a08" stroke-width="0.5"/>
<ellipse cx="432.0" cy="727.0" rx="1.6" ry="1.3" fill="#fefefe" stroke="#8a4a08" stroke-width="0.5"/>
<ellipse cx="517.0" cy="704.5" rx="5.1" ry="3.9" fill="none" stroke="#e6a042" stroke-width="0.8"/>
<ellipse cx="517.0" cy="704.5" rx="3.5" ry="2.5" fill="#fefefe" stroke="#8a4a08" stroke-width="0.5"/>
<ellipse cx="519.5" cy="696.0" rx="3.6" ry="2.9" fill="none" stroke="#e6a042" stroke-width="0.8"/>
<ellipse cx="519.5" cy="696.0" rx="2.0" ry="1.5" fill="#fefefe" stroke="#8a4a08" stroke-width="0.5"/>
<ellipse cx="514.5" cy="713.0" rx="6.1" ry="3.9" fill="none" stroke="#e6a042" stroke-width="0.8" transform="rotate(-25 514.5 713.0)"/>
<ellipse cx="514.5" cy="713.0" rx="4.5" ry="2.5" fill="#fefefe" stroke="#8a4a08" stroke-width="0.5" transform="rotate(-25 514.5 713.0)"/>
<ellipse cx="462.5" cy="737.5" rx="6.6" ry="4.9" fill="none" stroke="#e6a042" stroke-width="0.8"/>
<ellipse cx="462.5" cy="737.5" rx="5.0" ry="3.5" fill="#fefefe" stroke="#8a4a08" stroke-width="0.5"/>
<ellipse cx="409.0" cy="697.0" rx="1.5" ry="1.2" fill="#fefefe" stroke="#8a4a08" stroke-width="0.5"/>
<ellipse cx="456.0" cy="678.0" rx="1.5" ry="1.2" fill="#fefefe" stroke="#8a4a08" stroke-width="0.5"/>
<ellipse cx="340.0" cy="652.0" rx="1.5" ry="1.2" fill="#fefefe" stroke="#8a4a08" stroke-width="0.5"/>
<ellipse cx="431.0" cy="654.0" rx="1.4" ry="1.1" fill="#fefefe" stroke="#8a4a08" stroke-width="0.5"/>
<ellipse cx="478.0" cy="680.0" rx="1.4" ry="1.1" fill="#fefefe" stroke="#8a4a08" stroke-width="0.5"/>
<polygon points="306.0,666.5 314.0,661.5 322.0,667.0 314.0,672.5" fill="#fefefe" stroke="#8a4a08" stroke-width="0.6" stroke-linejoin="round" />
<polygon points="372.0,640.0 384.0,635.0 392.0,639.5 380.0,644.5" fill="#fefefe" stroke="#8a4a08" stroke-width="0.6" stroke-linejoin="round" />
<polygon points="474.0,677.5 486.0,674.5 496.0,680.0 484.0,684.0" fill="#fefefe" stroke="#8a4a08" stroke-width="0.6" stroke-linejoin="round" />
<polygon points="412.0,722.5 422.0,718.5 428.0,722.0 418.0,726.0" fill="#fefefe" stroke="#8a4a08" stroke-width="0.6" stroke-linejoin="round" />
<path d="M262,640 L292,625 L318,615 M348,617 L372,616 L398,631 M260,642 L308,667 M500,687 L522,698" fill="none" stroke="#e6a042" stroke-width="0.9" stroke-linejoin="round" stroke-linecap="round" />
<polyline points="464.0,650.0 464.0,737.0" fill="none" stroke="#3a3a3a" stroke-width="0.8"/>
<defs><linearGradient id="gside" x1="0" y1="0" x2="0" y2="1"><stop offset="0" stop-color="#9aa8e2"/><stop offset="1" stop-color="#7c8ace"/></linearGradient></defs>
<defs><linearGradient id="gfront" x1="0" y1="0" x2="1" y2="1"><stop offset="0" stop-color="#91a0dd"/><stop offset="1" stop-color="#7886ca"/></linearGradient></defs>
<polygon points="133.8,367.5 135.0,378.0 148.8,388.8 147.5,407.5 160.0,415.0 161.0,427.5 175.0,437.5 177.5,450.0 200.0,456.7 213.3,464.7 229.3,470.0 250.7,478.0 266.7,487.3 282.7,492.7 284.0,503.3 296.0,508.7 312.0,511.3 325.3,515.3 325.3,523.3 349.3,527.3 345.0,478.0 340.8,475.5" fill="url(#gside)" />
<polygon points="340.8,475.5 460.0,421.0 472.0,416.0 470.0,435.0 457.5,447.5 452.5,460.0 452.5,470.0 458.8,475.0 458.8,492.5 446.0,503.8 432.5,513.8 423.8,508.8 422.5,516.0 416.0,520.0 402.5,513.8 381.0,522.5 380.0,531.0 363.8,526.0 355.0,525.0 345.0,527.5 338.0,500.0" fill="url(#gfront)" />
<polygon points="156.8,390.0 336.1,483.6 336.1,490.1 156.8,396.5" fill="#9eace2" />
<polygon points="179.0,423.0 209.0,435.0 209.0,451.0 179.0,439.0" fill="#97a5dd" />
<ellipse cx="194.0" cy="436.0" rx="11.5" ry="13.5" fill="#a1aee4" transform="rotate(-22 194.0 436.0)"/>
<ellipse cx="194.0" cy="436.0" rx="8.5" ry="10.5" fill="#6876ba" transform="rotate(-22 194.0 436.0)"/>
<ellipse cx="195.5" cy="437.5" rx="5.9" ry="7.3" fill="#8492d1" transform="rotate(-22 195.5 437.5)"/>
<ellipse cx="232.0" cy="457.0" rx="11.5" ry="13.5" fill="#a1aee4" transform="rotate(-22 232.0 457.0)"/>
<ellipse cx="232.0" cy="457.0" rx="8.5" ry="10.5" fill="#6876ba" transform="rotate(-22 232.0 457.0)"/>
<ellipse cx="233.5" cy="458.5" rx="5.9" ry="7.3" fill="#8492d1" transform="rotate(-22 233.5 458.5)"/>
<ellipse cx="269.5" cy="474.5" rx="11.5" ry="13.5" fill="#a1aee4" transform="rotate(-22 269.5 474.5)"/>
<ellipse cx="269.5" cy="474.5" rx="8.5" ry="10.5" fill="#6876ba" transform="rotate(-22 269.5 474.5)"/>
<ellipse cx="271.0" cy="476.0" rx="5.9" ry="7.3" fill="#8492d1" transform="rotate(-22 271.0 476.0)"/>
<ellipse cx="309.0" cy="494.0" rx="12.0" ry="14.0" fill="#a1aee4" transform="rotate(-22 309.0 494.0)"/>
<ellipse cx="309.0" cy="494.0" rx="9.0" ry="11.0" fill="#6876ba" transform="rotate(-22 309.0 494.0)"/>
<ellipse cx="310.5" cy="495.5" rx="6.3" ry="7.7" fill="#8492d1" transform="rotate(-22 310.5 495.5)"/>
<path d="M218,470 C214,452 224,442 236,444 C246,446 250,458 262,470" fill="none" stroke="#aebaeb" stroke-width="3" stroke-linejoin="round" stroke-linecap="round" />
<path d="M262,470 C270,478 276,486 282,492" fill="none" stroke="#a1aee4" stroke-width="3" stroke-linejoin="round" stroke-linecap="round" />
<ellipse cx="250.7" cy="452.7" rx="3.8" ry="4.2" fill="#b6c1ed"/>
<ellipse cx="250.7" cy="452.7" rx="1.9" ry="2.2" fill="#6a78ba"/>
<ellipse cx="289.0" cy="500.0" rx="3.8" ry="4.2" fill="#b6c1ed"/>
<ellipse cx="289.0" cy="500.0" rx="1.9" ry="2.2" fill="#6a78ba"/>
<ellipse cx="324.8" cy="487.0" rx="3.8" ry="4.2" fill="#b6c1ed"/>
<ellipse cx="324.8" cy="487.0" rx="1.9" ry="2.2" fill="#6a78ba"/>
<ellipse cx="213.0" cy="468.0" rx="3.8" ry="4.2" fill="#b6c1ed"/>
<ellipse cx="213.0" cy="468.0" rx="1.9" ry="2.2" fill="#6a78ba"/>
<ellipse cx="178.0" cy="447.0" rx="3.8" ry="4.2" fill="#b6c1ed"/>
<ellipse cx="178.0" cy="447.0" rx="1.9" ry="2.2" fill="#6a78ba"/>
<polygon points="177.5,450.0 200.0,456.7 213.3,464.7 213.0,458.0 200.0,450.0 178.0,443.0" fill="#9face2" />
<polygon points="250.7,478.0 266.7,487.3 282.7,492.7 282.0,486.0 266.0,480.0 251.0,471.0" fill="#9face2" />
<polygon points="325.3,515.3 325.3,523.3 349.3,527.3 347.0,500.0 330.0,497.0" fill="#7886c8" />
<polygon points="333.0,508.0 343.0,505.0 349.0,509.0 349.0,520.0 340.0,523.0 333.0,519.0" fill="#9caae2" />
<polygon points="333.0,508.0 343.0,505.0 349.0,509.0 340.0,512.0" fill="#b6c1ed" />
<polygon points="203.0,424.0 206.0,425.5 206.0,453.5 203.0,452.0" fill="#7684c8" />
<polygon points="246.0,446.0 249.0,447.5 249.0,473.5 246.0,472.0" fill="#7684c8" />
<polygon points="286.0,470.0 289.0,471.5 289.0,493.5 286.0,492.0" fill="#7684c8" />
<polygon points="340.8,478.0 352.0,473.0 352.0,500.0 349.3,527.3 338.0,500.0" fill="#7482c4" />
<polygon points="402.0,468.0 420.0,460.0 421.0,518.0 403.0,513.0" fill="#a9b5e7" />
<polygon points="392.0,472.0 402.0,468.0 403.0,513.0 394.0,505.0" fill="#7d8bcd" />
<polygon points="430.0,452.0 452.0,442.0 452.5,470.0 458.8,475.0 458.8,492.5 446.0,503.8 432.5,513.0 430.0,480.0" fill="#a4b0e4" />
<polygon points="436.0,449.0 440.0,447.0 443.0,492.0 439.0,494.0" fill="#b6c1ed" />
<polygon points="440.0,447.0 444.0,445.5 447.0,490.0 443.0,492.0" fill="#7684c6" />
<polygon points="452.0,460.0 458.0,475.0 460.0,492.0 454.0,494.0 451.0,470.0" fill="#8290cf" />
<ellipse cx="415.6" cy="477.0" rx="4.0" ry="4.6" fill="#b6c1ed"/>
<ellipse cx="415.6" cy="477.0" rx="2.0" ry="2.4" fill="#6e7cbe"/>
<ellipse cx="417.0" cy="499.6" rx="4.0" ry="4.6" fill="#b6c1ed"/>
<ellipse cx="417.0" cy="499.6" rx="2.0" ry="2.4" fill="#6e7cbe"/>
<ellipse cx="441.0" cy="501.0" rx="4.0" ry="4.6" fill="#b6c1ed"/>
<ellipse cx="441.0" cy="501.0" rx="2.0" ry="2.4" fill="#6e7cbe"/>
<ellipse cx="399.0" cy="504.0" rx="4.0" ry="4.6" fill="#b6c1ed"/>
<ellipse cx="399.0" cy="504.0" rx="2.0" ry="2.4" fill="#6e7cbe"/>
<polygon points="352.0,500.0 381.0,510.0 380.0,531.0 363.8,526.0 355.0,525.0 349.3,527.3" fill="#8d9bd9" />
<path d="M356,503 L356,522 A7,3 0 0 0 370,522 L370,503 Z" fill="url(#gper)" />
<ellipse cx="363.0" cy="503.0" rx="7.0" ry="3.0" fill="#aebaeb"/>
<polygon points="381.0,510.0 402.0,503.0 402.5,513.8 381.0,522.5" fill="#7f8dcf" />
<polygon points="372.0,486.0 398.0,497.0 398.0,505.0 372.0,494.0" fill="#a7b3e7" />
<polygon points="133.8,367.5 250.0,312.5 258.0,316.0 398.0,386.0 460.0,419.0 340.8,475.5" fill="#8c9ad9" />
<polygon points="145.1,367.6 247.4,319.2 444.3,422.0 342.0,470.4" fill="#8997d6" />
<polygon points="145.1,367.6 247.4,319.2 247.4,328.2 145.1,376.6" fill="#7a88ca" />
<polygon points="247.4,319.2 444.3,422.0 444.3,430.0 247.4,327.2" fill="#9caae2" />
<polygon points="247.4,327.2 444.3,430.0 444.3,432.0 247.4,329.2" fill="#6c7abc" />
<polygon points="195.2,349.9 209.2,343.2 400.1,442.9 386.1,449.5" fill="#a1aee4" />
<polygon points="195.2,349.9 386.1,449.5 386.1,452.5 195.2,352.9" fill="#6876b8" />
<polygon points="209.2,342.8 400.1,442.4 400.1,444.1 209.2,344.4" fill="#7280c1" />
<polygon points="133.8,367.5 250.0,312.5 247.4,319.2 145.1,367.6" fill="#a5b1e6" />
<polygon points="133.8,367.5 145.1,367.6 346.6,472.8 340.8,475.5" fill="#a3afe4" />
<polygon points="145.1,367.6 346.6,472.8 346.6,475.2 145.1,370.1" fill="#6a78ba" />
<polygon points="250.0,312.5 258.0,316.0 398.0,386.0 444.3,422.0 247.4,319.2" fill="#9fade4" />
<polygon points="133.8,367.5 340.8,475.5 340.8,482.5 135.0,377.0" fill="#8492d3" />
<polygon points="149.8,383.4 340.8,483.0 340.8,486.0 149.8,386.4" fill="#5c69a9" />
<ellipse cx="148.1" cy="363.4" rx="2.2" ry="1.4" fill="#7280c1"/>
<ellipse cx="241.1" cy="319.4" rx="2.2" ry="1.4" fill="#7280c1"/>
<ellipse cx="194.6" cy="341.4" rx="2.2" ry="1.4" fill="#7280c1"/>
<ellipse cx="191.3" cy="376.1" rx="13.5" ry="11.0" fill="#b8c3ee" transform="rotate(-25 191.3 376.1)"/>
<ellipse cx="192.8" cy="378.6" rx="10.0" ry="6.5" fill="#8796d3" transform="rotate(-25 192.8 378.6)"/>
<ellipse cx="193.8" cy="378.1" rx="7.0" ry="4.0" fill="#afbbea" transform="rotate(-25 193.8 378.1)"/>
<ellipse cx="214.3" cy="384.6" rx="12.0" ry="10.0" fill="#abb7e9" transform="rotate(-25 214.3 384.6)"/>
<ellipse cx="212.3" cy="385.6" rx="6.0" ry="7.5" fill="#7482c4" transform="rotate(-10 212.3 385.6)"/>
<ellipse cx="219.3" cy="382.6" rx="5.0" ry="6.0" fill="#cbd3f1" transform="rotate(-10 219.3 382.6)"/>
<ellipse cx="221.3" cy="387.6" rx="3.0" ry="4.0" fill="#7886c8" transform="rotate(-10 221.3 387.6)"/>
<ellipse cx="246.0" cy="350.3" rx="13.5" ry="11.0" fill="#b8c3ee" transform="rotate(-25 246.0 350.3)"/>
<ellipse cx="247.5" cy="352.8" rx="10.0" ry="6.5" fill="#8796d3" transform="rotate(-25 247.5 352.8)"/>
<ellipse cx="248.5" cy="352.3" rx="7.0" ry="4.0" fill="#afbbea" transform="rotate(-25 248.5 352.3)"/>
<ellipse cx="269.0" cy="358.8" rx="12.0" ry="10.0" fill="#abb7e9" transform="rotate(-25 269.0 358.8)"/>
<ellipse cx="267.0" cy="359.8" rx="6.0" ry="7.5" fill="#7482c4" transform="rotate(-10 267.0 359.8)"/>
<ellipse cx="274.0" cy="356.8" rx="5.0" ry="6.0" fill="#cbd3f1" transform="rotate(-10 274.0 356.8)"/>
<ellipse cx="276.0" cy="361.8" rx="3.0" ry="4.0" fill="#7886c8" transform="rotate(-10 276.0 361.8)"/>
<ellipse cx="242.2" cy="367.4" rx="3.5" ry="2.2" fill="#626faf"/>
<ellipse cx="242.2" cy="367.1" rx="4.8" ry="3.2" fill="none" stroke="#bac5ee" stroke-width="0.8"/>
<ellipse cx="237.3" cy="400.1" rx="13.5" ry="11.0" fill="#b8c3ee" transform="rotate(-25 237.3 400.1)"/>
<ellipse cx="238.8" cy="402.6" rx="10.0" ry="6.5" fill="#8796d3" transform="rotate(-25 238.8 402.6)"/>
<ellipse cx="239.8" cy="402.1" rx="7.0" ry="4.0" fill="#afbbea" transform="rotate(-25 239.8 402.1)"/>
<ellipse cx="260.3" cy="408.6" rx="12.0" ry="10.0" fill="#abb7e9" transform="rotate(-25 260.3 408.6)"/>
<ellipse cx="258.3" cy="409.6" rx="6.0" ry="7.5" fill="#7482c4" transform="rotate(-10 258.3 409.6)"/>
<ellipse cx="265.3" cy="406.6" rx="5.0" ry="6.0" fill="#cbd3f1" transform="rotate(-10 265.3 406.6)"/>
<ellipse cx="267.3" cy="411.6" rx="3.0" ry="4.0" fill="#7886c8" transform="rotate(-10 267.3 411.6)"/>
<ellipse cx="292.0" cy="374.3" rx="13.5" ry="11.0" fill="#b8c3ee" transform="rotate(-25 292.0 374.3)"/>
<ellipse cx="293.5" cy="376.8" rx="10.0" ry="6.5" fill="#8796d3" transform="rotate(-25 293.5 376.8)"/>
<ellipse cx="294.5" cy="376.3" rx="7.0" ry="4.0" fill="#afbbea" transform="rotate(-25 294.5 376.3)"/>
<ellipse cx="315.0" cy="382.8" rx="12.0" ry="10.0" fill="#abb7e9" transform="rotate(-25 315.0 382.8)"/>
<ellipse cx="313.0" cy="383.8" rx="6.0" ry="7.5" fill="#7482c4" transform="rotate(-10 313.0 383.8)"/>
<ellipse cx="320.0" cy="380.8" rx="5.0" ry="6.0" fill="#cbd3f1" transform="rotate(-10 320.0 380.8)"/>
<ellipse cx="322.0" cy="385.8" rx="3.0" ry="4.0" fill="#7886c8" transform="rotate(-10 322.0 385.8)"/>
<ellipse cx="288.2" cy="391.4" rx="3.5" ry="2.2" fill="#626faf"/>
<ellipse cx="288.2" cy="391.1" rx="4.8" ry="3.2" fill="none" stroke="#bac5ee" stroke-width="0.8"/>
<ellipse cx="283.3" cy="424.1" rx="13.5" ry="11.0" fill="#b8c3ee" transform="rotate(-25 283.3 424.1)"/>
<ellipse cx="284.8" cy="426.6" rx="10.0" ry="6.5" fill="#8796d3" transform="rotate(-25 284.8 426.6)"/>
<ellipse cx="285.8" cy="426.1" rx="7.0" ry="4.0" fill="#afbbea" transform="rotate(-25 285.8 426.1)"/>
<ellipse cx="306.3" cy="432.6" rx="12.0" ry="10.0" fill="#abb7e9" transform="rotate(-25 306.3 432.6)"/>
<ellipse cx="304.3" cy="433.6" rx="6.0" ry="7.5" fill="#7482c4" transform="rotate(-10 304.3 433.6)"/>
<ellipse cx="311.3" cy="430.6" rx="5.0" ry="6.0" fill="#cbd3f1" transform="rotate(-10 311.3 430.6)"/>
<ellipse cx="313.3" cy="435.6" rx="3.0" ry="4.0" fill="#7886c8" transform="rotate(-10 313.3 435.6)"/>
<ellipse cx="338.0" cy="398.3" rx="13.5" ry="11.0" fill="#b8c3ee" transform="rotate(-25 338.0 398.3)"/>
<ellipse cx="339.5" cy="400.8" rx="10.0" ry="6.5" fill="#8796d3" transform="rotate(-25 339.5 400.8)"/>
<ellipse cx="340.5" cy="400.3" rx="7.0" ry="4.0" fill="#afbbea" transform="rotate(-25 340.5 400.3)"/>
<ellipse cx="361.0" cy="406.8" rx="12.0" ry="10.0" fill="#abb7e9" transform="rotate(-25 361.0 406.8)"/>
<ellipse cx="359.0" cy="407.8" rx="6.0" ry="7.5" fill="#7482c4" transform="rotate(-10 359.0 407.8)"/>
<ellipse cx="366.0" cy="404.8" rx="5.0" ry="6.0" fill="#cbd3f1" transform="rotate(-10 366.0 404.8)"/>
<ellipse cx="368.0" cy="409.8" rx="3.0" ry="4.0" fill="#7886c8" transform="rotate(-10 368.0 409.8)"/>
<ellipse cx="334.2" cy="415.4" rx="3.5" ry="2.2" fill="#626faf"/>
<ellipse cx="334.2" cy="415.1" rx="4.8" ry="3.2" fill="none" stroke="#bac5ee" stroke-width="0.8"/>
<ellipse cx="329.3" cy="448.1" rx="13.5" ry="11.0" fill="#b8c3ee" transform="rotate(-25 329.3 448.1)"/>
<ellipse cx="330.8" cy="450.6" rx="10.0" ry="6.5" fill="#8796d3" transform="rotate(-25 330.8 450.6)"/>
<ellipse cx="331.8" cy="450.1" rx="7.0" ry="4.0" fill="#afbbea" transform="rotate(-25 331.8 450.1)"/>
<ellipse cx="352.3" cy="456.6" rx="12.0" ry="10.0" fill="#abb7e9" transform="rotate(-25 352.3 456.6)"/>
<ellipse cx="350.3" cy="457.6" rx="6.0" ry="7.5" fill="#7482c4" transform="rotate(-10 350.3 457.6)"/>
<ellipse cx="357.3" cy="454.6" rx="5.0" ry="6.0" fill="#cbd3f1" transform="rotate(-10 357.3 454.6)"/>
<ellipse cx="359.3" cy="459.6" rx="3.0" ry="4.0" fill="#7886c8" transform="rotate(-10 359.3 459.6)"/>
<ellipse cx="384.0" cy="422.3" rx="13.5" ry="11.0" fill="#b8c3ee" transform="rotate(-25 384.0 422.3)"/>
<ellipse cx="385.5" cy="424.8" rx="10.0" ry="6.5" fill="#8796d3" transform="rotate(-25 385.5 424.8)"/>
<ellipse cx="386.5" cy="424.3" rx="7.0" ry="4.0" fill="#afbbea" transform="rotate(-25 386.5 424.3)"/>
<ellipse cx="407.0" cy="430.8" rx="12.0" ry="10.0" fill="#abb7e9" transform="rotate(-25 407.0 430.8)"/>
<ellipse cx="405.0" cy="431.8" rx="6.0" ry="7.5" fill="#7482c4" transform="rotate(-10 405.0 431.8)"/>
<ellipse cx="412.0" cy="428.8" rx="5.0" ry="6.0" fill="#cbd3f1" transform="rotate(-10 412.0 428.8)"/>
<ellipse cx="414.0" cy="433.8" rx="3.0" ry="4.0" fill="#7886c8" transform="rotate(-10 414.0 433.8)"/>
<ellipse cx="380.2" cy="439.4" rx="3.5" ry="2.2" fill="#626faf"/>
<ellipse cx="380.2" cy="439.1" rx="4.8" ry="3.2" fill="none" stroke="#bac5ee" stroke-width="0.8"/>
<polygon points="136.0,378.0 150.0,384.0 171.0,395.0 172.0,407.0 152.0,411.0 148.0,407.0 148.8,389.0" fill="#96a4dd" />
<polygon points="149.0,387.0 160.0,392.0 160.0,402.0 149.0,398.0" fill="#acb8e8" />
<ellipse cx="151.3" cy="408.0" rx="4.0" ry="4.4" fill="#b0bcea"/>
<ellipse cx="151.3" cy="408.0" rx="2.0" ry="2.3" fill="#7280c2"/>
<polygon points="171.0,382.5 191.0,392.0 195.0,390.0 175.0,380.5" fill="#a9b5e7" />
<polygon points="171.0,382.5 191.0,392.0 191.0,403.0 172.0,396.0" fill="#8e9dd7" />
<polygon points="191.0,392.0 195.0,390.0 195.0,400.0 191.0,403.0" fill="#7886c7" />
<ellipse cx="178.0" cy="415.0" rx="4.0" ry="4.4" fill="#b0bcea"/>
<ellipse cx="178.0" cy="415.0" rx="2.0" ry="2.3" fill="#6e7cbe"/>
<polygon points="193.0,406.0 225.0,421.0 229.0,424.5 194.0,409.5" fill="#bec9ee" />
<path d="M194,409.500 L229,424.500 C231,427 231,431 229,434 L209,427 L194,421 Z" fill="#a1ade2" />
<path d="M222,421.500 L229,424.500 C231,427 231,431 229,434 L222,431.500 Z" fill="#bac5ed" />
<polygon points="225.8,428.0 274.0,453.2 276.4,458.4 228.1,433.2" fill="#b8c3ec" />
<polygon points="228.1,433.2 276.4,458.4 277.3,468.4 229.4,443.4" fill="#97a5dd" />
<defs><linearGradient id="gcap" x1="0" y1="0" x2="1" y2="0"><stop offset="0" stop-color="#4688d2"/><stop offset="0.2" stop-color="#80bbf0"/><stop offset="0.5" stop-color="#5c9ee3"/><stop offset="1" stop-color="#5092da"/></linearGradient></defs>
<polygon points="246.8,327.2 274.8,314.8 280.2,320.2 244.2,332.8" fill="#4484cc" />
<ellipse cx="267.2" cy="337.2" rx="8.5" ry="7.5" fill="#6775b7" transform="rotate(-25 267.2 337.2)"/>
<ellipse cx="266.2" cy="340.8" rx="7.0" ry="4.5" fill="#a9b5e7" transform="rotate(-25 266.2 340.8)"/>
<path d="M244.2,332.8 L280.2,320.2 L280.2,332.1 L275.2,335.1 Q270.8,328.8 264.8,332.2 Q259.8,334.8 259.2,338.1 L258.2,346.1 L252.2,349.1 L244.2,345.2 Z" fill="url(#gcap)" />
<ellipse cx="250.8" cy="333.0" rx="5.6" ry="2.9" fill="#0f9496"/>
<path d="M246.5,327.4 L246.5,332.0 A4.3,2.4 0 0 0 255.0,332.0 L255.0,327.4 Z" fill="url(#gbolt)"/>
<ellipse cx="250.8" cy="327.4" rx="4.3" ry="2.4" fill="#36d6d6"/>
<ellipse cx="250.1" cy="327.2" rx="2.1" ry="1.1" fill="#86f0f0"/>
<ellipse cx="272.8" cy="322.4" rx="5.6" ry="2.9" fill="#0f9496"/>
<path d="M268.5,316.8 L268.5,321.4 A4.3,2.4 0 0 0 277.0,321.4 L277.0,316.8 Z" fill="url(#gbolt)"/>
<ellipse cx="272.8" cy="316.8" rx="4.3" ry="2.4" fill="#36d6d6"/>
<ellipse cx="272.1" cy="316.6" rx="2.1" ry="1.1" fill="#86f0f0"/>
<polygon points="292.2,350.3 320.2,337.8 325.7,343.3 289.7,355.8" fill="#4484cc" />
<ellipse cx="312.7" cy="360.3" rx="8.5" ry="7.5" fill="#6775b7" transform="rotate(-25 312.7 360.3)"/>
<ellipse cx="311.7" cy="363.8" rx="7.0" ry="4.5" fill="#a9b5e7" transform="rotate(-25 311.7 363.8)"/>
<path d="M289.7,355.8 L325.7,343.3 L325.7,355.1 L320.7,358.1 Q316.2,351.8 310.2,355.3 Q305.2,357.8 304.7,361.1 L303.7,369.1 L297.7,372.1 L289.7,368.3 Z" fill="url(#gcap)" />
<ellipse cx="296.2" cy="356.0" rx="5.6" ry="2.9" fill="#0f9496"/>
<path d="M291.9,350.5 L291.9,355.1 A4.3,2.4 0 0 0 300.5,355.1 L300.5,350.5 Z" fill="url(#gbolt)"/>
<ellipse cx="296.2" cy="350.5" rx="4.3" ry="2.4" fill="#36d6d6"/>
<ellipse cx="295.5" cy="350.3" rx="2.1" ry="1.1" fill="#86f0f0"/>
<ellipse cx="318.2" cy="345.4" rx="5.6" ry="2.9" fill="#0f9496"/>
<path d="M313.9,339.9 L313.9,344.5 A4.3,2.4 0 0 0 322.5,344.5 L322.5,339.9 Z" fill="url(#gbolt)"/>
<ellipse cx="318.2" cy="339.9" rx="4.3" ry="2.4" fill="#36d6d6"/>
<ellipse cx="317.5" cy="339.7" rx="2.1" ry="1.1" fill="#86f0f0"/>
<polygon points="338.0,373.1 366.0,360.6 371.5,366.1 335.5,378.6" fill="#4484cc" />
<ellipse cx="358.5" cy="383.1" rx="8.5" ry="7.5" fill="#6775b7" transform="rotate(-25 358.5 383.1)"/>
<ellipse cx="357.5" cy="386.6" rx="7.0" ry="4.5" fill="#a9b5e7" transform="rotate(-25 357.5 386.6)"/>
<path d="M335.5,378.6 L371.5,366.1 L371.5,377.9 L366.5,380.9 Q362.0,374.6 356.0,378.1 Q351.0,380.6 350.5,383.9 L349.5,391.9 L343.5,394.9 L335.5,391.1 Z" fill="url(#gcap)" />
<ellipse cx="342.0" cy="378.8" rx="5.6" ry="2.9" fill="#0f9496"/>
<path d="M337.7,373.3 L337.7,377.9 A4.3,2.4 0 0 0 346.3,377.9 L346.3,373.3 Z" fill="url(#gbolt)"/>
<ellipse cx="342.0" cy="373.3" rx="4.3" ry="2.4" fill="#36d6d6"/>
<ellipse cx="341.3" cy="373.1" rx="2.1" ry="1.1" fill="#86f0f0"/>
<ellipse cx="364.0" cy="368.2" rx="5.6" ry="2.9" fill="#0f9496"/>
<path d="M359.7,362.7 L359.7,367.3 A4.3,2.4 0 0 0 368.3,367.3 L368.3,362.7 Z" fill="url(#gbolt)"/>
<ellipse cx="364.0" cy="362.7" rx="4.3" ry="2.4" fill="#36d6d6"/>
<ellipse cx="363.3" cy="362.5" rx="2.1" ry="1.1" fill="#86f0f0"/>
<polygon points="384.0,395.5 412.0,383.0 417.5,388.5 381.5,401.0" fill="#4484cc" />
<ellipse cx="404.5" cy="405.5" rx="8.5" ry="7.5" fill="#6775b7" transform="rotate(-25 404.5 405.5)"/>
<ellipse cx="403.5" cy="409.0" rx="7.0" ry="4.5" fill="#a9b5e7" transform="rotate(-25 403.5 409.0)"/>
<path d="M381.5,401.0 L417.5,388.5 L417.5,400.3 L412.5,403.3 Q408.0,397.0 402.0,400.5 Q397.0,403.0 396.5,406.3 L395.5,414.3 L389.5,417.3 L381.5,413.5 Z" fill="url(#gcap)" />
<ellipse cx="388.0" cy="401.2" rx="5.6" ry="2.9" fill="#0f9496"/>
<path d="M383.7,395.7 L383.7,400.3 A4.3,2.4 0 0 0 392.3,400.3 L392.3,395.7 Z" fill="url(#gbolt)"/>
<ellipse cx="388.0" cy="395.7" rx="4.3" ry="2.4" fill="#36d6d6"/>
<ellipse cx="387.3" cy="395.5" rx="2.1" ry="1.1" fill="#86f0f0"/>
<ellipse cx="410.0" cy="390.6" rx="5.6" ry="2.9" fill="#0f9496"/>
<path d="M405.7,385.1 L405.7,389.7 A4.3,2.4 0 0 0 414.3,389.7 L414.3,385.1 Z" fill="url(#gbolt)"/>
<ellipse cx="410.0" cy="385.1" rx="4.3" ry="2.4" fill="#36d6d6"/>
<ellipse cx="409.3" cy="384.9" rx="2.1" ry="1.1" fill="#86f0f0"/>
<polygon points="182.5,357.5 210.5,345.0 216.0,350.5 180.0,363.0" fill="#4484cc" />
<ellipse cx="203.0" cy="367.5" rx="8.5" ry="7.5" fill="#6775b7" transform="rotate(-25 203.0 367.5)"/>
<ellipse cx="202.0" cy="371.0" rx="7.0" ry="4.5" fill="#a9b5e7" transform="rotate(-25 202.0 371.0)"/>
<path d="M180.0,363.0 L216.0,350.5 L216.0,362.3 L211.0,365.3 Q206.5,359.0 200.5,362.5 Q195.5,365.0 195.0,368.3 L194.0,376.3 L188.0,379.3 L180.0,375.5 Z" fill="url(#gcap)" />
<ellipse cx="186.0" cy="363.3" rx="3.0" ry="1.8" fill="#9ccaf4"/>
<ellipse cx="186.0" cy="363.3" rx="1.6" ry="1.0" fill="#2f70b8"/>
<ellipse cx="208.5" cy="352.6" rx="5.6" ry="2.9" fill="#0f9496"/>
<path d="M204.2,347.1 L204.2,351.7 A4.3,2.4 0 0 0 212.8,351.7 L212.8,347.1 Z" fill="url(#gbolt)"/>
<ellipse cx="208.5" cy="347.1" rx="4.3" ry="2.4" fill="#36d6d6"/>
<ellipse cx="207.8" cy="346.9" rx="2.1" ry="1.1" fill="#86f0f0"/>
<polygon points="229.0,379.7 257.0,367.2 262.5,372.7 226.5,385.2" fill="#4484cc" />
<ellipse cx="249.5" cy="389.7" rx="8.5" ry="7.5" fill="#6775b7" transform="rotate(-25 249.5 389.7)"/>
<ellipse cx="248.5" cy="393.2" rx="7.0" ry="4.5" fill="#a9b5e7" transform="rotate(-25 248.5 393.2)"/>
<path d="M226.5,385.2 L262.5,372.7 L262.5,384.5 L257.5,387.5 Q253.0,381.2 247.0,384.7 Q242.0,387.2 241.5,390.5 L240.5,398.5 L234.5,401.5 L226.5,397.7 Z" fill="url(#gcap)" />
<ellipse cx="233.0" cy="385.4" rx="5.6" ry="2.9" fill="#0f9496"/>
<path d="M228.7,379.9 L228.7,384.5 A4.3,2.4 0 0 0 237.3,384.5 L237.3,379.9 Z" fill="url(#gbolt)"/>
<ellipse cx="233.0" cy="379.9" rx="4.3" ry="2.4" fill="#36d6d6"/>
<ellipse cx="232.3" cy="379.7" rx="2.1" ry="1.1" fill="#86f0f0"/>
<ellipse cx="255.0" cy="374.8" rx="5.6" ry="2.9" fill="#0f9496"/>
<path d="M250.7,369.3 L250.7,373.9 A4.3,2.4 0 0 0 259.3,373.9 L259.3,369.3 Z" fill="url(#gbolt)"/>
<ellipse cx="255.0" cy="369.3" rx="4.3" ry="2.4" fill="#36d6d6"/>
<ellipse cx="254.3" cy="369.1" rx="2.1" ry="1.1" fill="#86f0f0"/>
<polygon points="275.2,403.0 303.2,390.5 308.7,396.0 272.7,408.5" fill="#4484cc" />
<ellipse cx="295.7" cy="413.0" rx="8.5" ry="7.5" fill="#6775b7" transform="rotate(-25 295.7 413.0)"/>
<ellipse cx="294.7" cy="416.5" rx="7.0" ry="4.5" fill="#a9b5e7" transform="rotate(-25 294.7 416.5)"/>
<path d="M272.7,408.5 L308.7,396.0 L308.7,407.8 L303.7,410.8 Q299.2,404.5 293.2,408.0 Q288.2,410.5 287.7,413.8 L286.7,421.8 L280.7,424.8 L272.7,421.0 Z" fill="url(#gcap)" />
<ellipse cx="279.2" cy="408.7" rx="5.6" ry="2.9" fill="#0f9496"/>
<path d="M274.9,403.2 L274.9,407.8 A4.3,2.4 0 0 0 283.5,407.8 L283.5,403.2 Z" fill="url(#gbolt)"/>
<ellipse cx="279.2" cy="403.2" rx="4.3" ry="2.4" fill="#36d6d6"/>
<ellipse cx="278.5" cy="403.0" rx="2.1" ry="1.1" fill="#86f0f0"/>
<ellipse cx="301.2" cy="398.1" rx="5.6" ry="2.9" fill="#0f9496"/>
<path d="M296.9,392.6 L296.9,397.2 A4.3,2.4 0 0 0 305.5,397.2 L305.5,392.6 Z" fill="url(#gbolt)"/>
<ellipse cx="301.2" cy="392.6" rx="4.3" ry="2.4" fill="#36d6d6"/>
<ellipse cx="300.5" cy="392.4" rx="2.1" ry="1.1" fill="#86f0f0"/>
<polygon points="321.0,426.5 349.0,414.0 354.5,419.5 318.5,432.0" fill="#4484cc" />
<ellipse cx="341.5" cy="436.5" rx="8.5" ry="7.5" fill="#6775b7" transform="rotate(-25 341.5 436.5)"/>
<ellipse cx="340.5" cy="440.0" rx="7.0" ry="4.5" fill="#a9b5e7" transform="rotate(-25 340.5 440.0)"/>
<path d="M318.5,432.0 L354.5,419.5 L354.5,431.3 L349.5,434.3 Q345.0,428.0 339.0,431.5 Q334.0,434.0 333.5,437.3 L332.5,445.3 L326.5,448.3 L318.5,444.5 Z" fill="url(#gcap)" />
<ellipse cx="325.0" cy="432.2" rx="5.6" ry="2.9" fill="#0f9496"/>
<path d="M320.7,426.7 L320.7,431.3 A4.3,2.4 0 0 0 329.3,431.3 L329.3,426.7 Z" fill="url(#gbolt)"/>
<ellipse cx="325.0" cy="426.7" rx="4.3" ry="2.4" fill="#36d6d6"/>
<ellipse cx="324.3" cy="426.5" rx="2.1" ry="1.1" fill="#86f0f0"/>
<ellipse cx="347.0" cy="421.6" rx="5.6" ry="2.9" fill="#0f9496"/>
<path d="M342.7,416.1 L342.7,420.7 A4.3,2.4 0 0 0 351.3,420.7 L351.3,416.1 Z" fill="url(#gbolt)"/>
<ellipse cx="347.0" cy="416.1" rx="4.3" ry="2.4" fill="#36d6d6"/>
<ellipse cx="346.3" cy="415.9" rx="2.1" ry="1.1" fill="#86f0f0"/>
<ellipse cx="363.8" cy="366.8" rx="4.4" ry="2.2" fill="#0f9496"/>
<path d="M360.4,362.5 L360.4,366.1 A3.3,1.9 0 0 0 367.1,366.1 L367.1,362.5 Z" fill="url(#gbolt)"/>
<ellipse cx="363.8" cy="362.5" rx="3.3" ry="1.9" fill="#36d6d6"/>
<ellipse cx="363.2" cy="362.3" rx="1.6" ry="0.9" fill="#86f0f0"/>
<ellipse cx="341.0" cy="378.1" rx="4.4" ry="2.2" fill="#0f9496"/>
<path d="M337.7,373.7 L337.7,377.3 A3.3,1.9 0 0 0 344.3,377.3 L344.3,373.7 Z" fill="url(#gbolt)"/>
<ellipse cx="341.0" cy="373.7" rx="3.3" ry="1.9" fill="#36d6d6"/>
<ellipse cx="340.5" cy="373.6" rx="1.6" ry="0.9" fill="#86f0f0"/>
<defs><linearGradient id="gplate" x1="0" y1="0" x2="0.3" y2="1"><stop offset="0" stop-color="#62a2e2"/><stop offset="1" stop-color="#4a8cd2"/></linearGradient></defs>
<path d="M340,476 C340,462 342,450 346,441 C350,432 356,426 363,422 L392,400.5 L430,385 C440,380.5 452,379.5 462,383.5 C470,387 474.500,395 475.800,405 L476,412 L461,424 L425,441 L412.5,445 L397.5,451 L360,473 L340,480 Z" fill="url(#gplate)" />
<path d="M346,441 C350,432 356,426 363,422 L392,400.5 L430,385 C440,380.5 452,379.5 462,383.5" fill="none" stroke="#7ab6f0" stroke-width="1.2" stroke-linejoin="round" stroke-linecap="round" />
<path d="M427.500,386 L428,376 C429,373 431.500,373 432.500,375.500 L436,381.500 L440,383 Z" fill="#7ab6ec" />
<path d="M419,390 L420,383.500 L423.500,383 L425,388 Z" fill="#86bef0" />
<ellipse cx="440.5" cy="430.0" rx="20.0" ry="24.5" fill="#4688d4" transform="rotate(20 440.5 430.0)"/>
<ellipse cx="441.3" cy="430.4" rx="18.0" ry="22.0" fill="#74b2ee" transform="rotate(20 441.3 430.4)"/>
<ellipse cx="442.1" cy="430.8" rx="16.0" ry="19.5" fill="#4a8cd6" transform="rotate(20 442.1 430.8)"/>
<ellipse cx="442.9" cy="431.2" rx="14.2" ry="17.4" fill="#5f9fe4" transform="rotate(20 442.9 431.2)"/>
<ellipse cx="443.7" cy="431.6" rx="12.6" ry="15.6" fill="#9eace2" transform="rotate(20 443.7 431.6)"/>
<ellipse cx="445.7" cy="433.0" rx="9.2" ry="12.2" fill="#7684c6" transform="rotate(20 445.7 433.0)"/>
<ellipse cx="441.0" cy="427.5" rx="6.5" ry="8.5" fill="#b6c1ec" transform="rotate(20 441.0 427.5)"/>
<ellipse cx="443.5" cy="431.0" rx="5.0" ry="6.5" fill="#91a0da" transform="rotate(20 443.5 431.0)"/>
<ellipse cx="378.5" cy="460.5" rx="20.0" ry="24.5" fill="#4688d4" transform="rotate(20 378.5 460.5)"/>
<ellipse cx="379.3" cy="460.9" rx="18.0" ry="22.0" fill="#74b2ee" transform="rotate(20 379.3 460.9)"/>
<ellipse cx="380.1" cy="461.3" rx="16.0" ry="19.5" fill="#4a8cd6" transform="rotate(20 380.1 461.3)"/>
<ellipse cx="380.9" cy="461.7" rx="14.2" ry="17.4" fill="#5f9fe4" transform="rotate(20 380.9 461.7)"/>
<ellipse cx="381.7" cy="462.1" rx="12.6" ry="15.6" fill="#9eace2" transform="rotate(20 381.7 462.1)"/>
<ellipse cx="383.7" cy="463.5" rx="9.2" ry="12.2" fill="#7684c6" transform="rotate(20 383.7 463.5)"/>
<ellipse cx="379.0" cy="458.0" rx="6.5" ry="8.5" fill="#b6c1ec" transform="rotate(20 379.0 458.0)"/>
<ellipse cx="381.5" cy="461.5" rx="5.0" ry="6.5" fill="#91a0da" transform="rotate(20 381.5 461.5)"/>
<path d="M404,408 L409,405 L414,440 L406,444 Z" fill="#5a9ce2" />
<ellipse cx="408.5" cy="405.0" rx="3.0" ry="3.5" fill="#91a0db"/>
<polyline points="207.0,270.0 233.5,338.5 201.0,355.0 212.0,383.0" fill="none" stroke="#262626" stroke-width="0.7"/>
<polyline points="294.0,280.0 267.3,357.0" fill="none" stroke="#262626" stroke-width="0.7"/>
<polyline points="247.5,300.0 247.5,372.0" fill="none" stroke="#262626" stroke-width="0.7"/>
<polyline points="188.0,322.0 188.0,358.0" fill="none" stroke="#262626" stroke-width="0.7"/>
<polyline points="408.0,315.0 408.0,388.0" fill="none" stroke="#262626" stroke-width="0.7"/>
<polyline points="431.7,320.0 431.7,377.0" fill="none" stroke="#262626" stroke-width="0.7"/>
<polyline points="366.7,355.0 366.7,398.0" fill="none" stroke="#262626" stroke-width="0.7"/>
<polyline points="329.7,544.0 329.7,432.0 353.0,430.0" fill="none" stroke="#262626" stroke-width="0.7"/>
<polyline points="112.0,313.5 178.0,346.5" fill="none" stroke="#262626" stroke-width="0.7"/>
<text x="0" y="0" transform="translate(144.3,548.5) rotate(-32.1) translate(7.6,0) scale(1.0,1)" style="font-family:'Liberation Sans',sans-serif;font-size:83px;fill:#7c7c7c;fill-opacity:0.47">7</text>
<text x="0" y="0" transform="translate(144.3,548.5) rotate(-32.1) translate(60.6,0) scale(0.86,1)" style="font-family:'Liberation Sans',sans-serif;font-size:83px;fill:#7c7c7c;fill-opacity:0.47">z</text>
<text x="0" y="0" transform="translate(144.3,548.5) rotate(-32.1) translate(103,0) scale(1.0,1)" style="font-family:'Liberation Sans',sans-serif;font-size:83px;fill:#7c7c7c;fill-opacity:0.47">a</text>
<text x="0" y="0" transform="translate(144.3,548.5) rotate(-32.1) translate(143.8,0) scale(1.0,1)" style="font-family:'Liberation Sans',sans-serif;font-size:83px;fill:#7c7c7c;fill-opacity:0.47">p</text>
<text x="0" y="0" transform="translate(144.3,548.5) rotate(-32.1) translate(195,0) scale(1.0,1)" style="font-family:'Liberation Sans',sans-serif;font-size:83px;fill:#7c7c7c;fill-opacity:0.47">.</text>
<text x="0" y="0" transform="translate(144.3,548.5) rotate(-32.1) translate(226,0) scale(1.0,1)" style="font-family:'Liberation Sans',sans-serif;font-size:83px;fill:#7c7c7c;fill-opacity:0.47">c</text>
<text x="0" y="0" transform="translate(144.3,548.5) rotate(-32.1) translate(275,0) scale(1.0,1)" style="font-family:'Liberation Sans',sans-serif;font-size:83px;fill:#7c7c7c;fill-opacity:0.47">o</text>
<text x="0" y="0" transform="translate(144.3,548.5) rotate(-32.1) translate(320,0) scale(1.0,1)" style="font-family:'Liberation Sans',sans-serif;font-size:83px;fill:#7c7c7c;fill-opacity:0.47">m</text>
</svg>
</body></html>
